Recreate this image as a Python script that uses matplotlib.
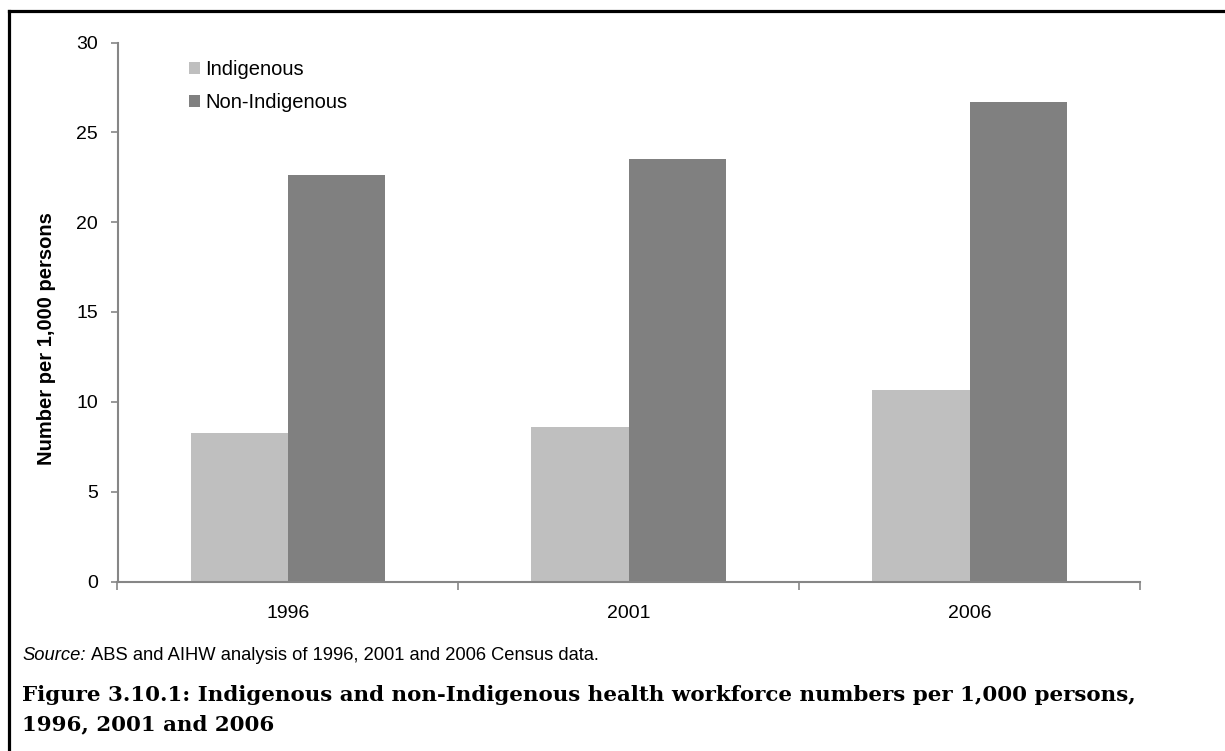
import numpy as np
import matplotlib
matplotlib.use('Agg')
import matplotlib.pyplot as plt
from matplotlib.lines import Line2D

## Health workforce per 1,000 persons, grouped bars by census year

years = ['1996', '2001', '2006']
indigenous = [8.25, 8.6, 10.65]
non_indigenous = [22.6, 23.5, 26.7]
series_names = ['Indigenous', 'Non-Indigenous']

plt.rcParams['font.family'] = ['Liberation Sans', 'DejaVu Sans']

W, H = 1225, 751
fig = plt.figure(figsize=(W / 100, H / 100), dpi=100)
ax = fig.add_axes([117.5 / W, 1 - 581.5 / H, (1140 - 117.5) / W, (581.5 - 42.5) / H])

axis_col = '#868686'
x = np.arange(len(years))
bw = 1 / 3.5  # excel-ish gap width 150%
ax.bar(x - bw / 2, indigenous, bw, color='#bfbfbf', label=series_names[0], zorder=2)
ax.bar(x + bw / 2, non_indigenous, bw, color='#808080', label=series_names[1], zorder=2)

ax.set_xlim(-0.5, len(years) - 0.5)
ax.set_ylim(0, 30)
ax.set_yticks(range(0, 31, 5))
ax.set_xticks(x)
ax.set_xticklabels(years)
ax.set_xticks(np.arange(len(years) + 1) - 0.5, minor=True)
ax.tick_params(axis='x', which='major', length=0, labelsize=14, pad=17)
ax.tick_params(axis='x', which='minor', length=6, width=1.2, color=axis_col, direction='out')
ax.tick_params(axis='y', length=5, width=1.2, color=axis_col, labelsize=14, pad=9)

for s in ['top', 'right']:
    ax.spines[s].set_visible(False)
for s in ['left', 'bottom']:
    ax.spines[s].set_color(axis_col)
    ax.spines[s].set_linewidth(1.5)

ax.set_ylabel('Number per 1,000 persons', fontsize=14.5, fontweight='bold', labelpad=12)
ax.yaxis.set_label_coords(-0.06, 0.45)

ax.legend(loc='upper left', bbox_to_anchor=(0.062, 0.982), frameon=False, fontsize=14.5,
          handlelength=0.55, handleheight=0.55, handletextpad=0.25, labelspacing=0.68,
          borderaxespad=0)

# source note and caption
src = fig.text(22 / W, 1 - 655 / H, 'Source:', fontsize=13.2, style='italic', va='center')
ax.annotate('ABS and AIHW analysis of 1996, 2001 and 2006 Census data.', xy=(1, 0.5),
            xycoords=src, xytext=(4, 0), textcoords='offset points', fontsize=13.2,
            va='center', annotation_clip=False)
fig.text(22 / W, 1 - 695 / H,
         'Figure 3.10.1: Indigenous and non-Indigenous health workforce numbers per 1,000 persons,',
         fontsize=15.4, fontweight='bold', family='DejaVu Serif', va='center')
fig.text(22 / W, 1 - 724 / H, '1996, 2001 and 2006',
         fontsize=15.4, fontweight='bold', family='DejaVu Serif', va='center')

# page frame (top and left edges)
fig.add_artist(Line2D([8.5 / W, 1], [1 - 10.5 / H, 1 - 10.5 / H], color='black', lw=2.3,
                      transform=fig.transFigure))
fig.add_artist(Line2D([8.5 / W, 8.5 / W], [1 - 10.5 / H, 0], color='black', lw=2.3,
                      transform=fig.transFigure))

fig.savefig('out.png', dpi=100)
